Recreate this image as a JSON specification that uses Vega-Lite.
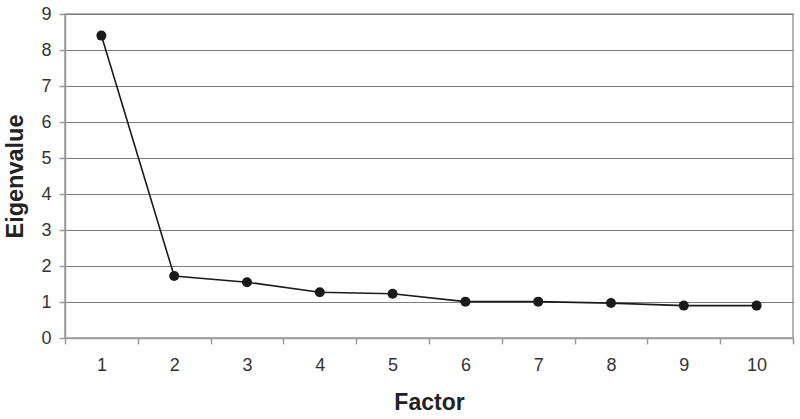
{
  "$schema": "https://vega.github.io/schema/vega-lite/v6.json",
  "autosize": {"type": "none"},
  "width": 728,
  "height": 324,
  "padding": {"left": 65, "top": 14, "right": 7, "bottom": 81},
  "background": "white",
  "config": {
    "view": {"stroke": "#9a9a9a", "strokeWidth": 1.5},
    "font": "Liberation Sans"
  },
  "data": {
    "values": [
      {"factor": 1, "eigenvalue": 8.4},
      {"factor": 2, "eigenvalue": 1.72},
      {"factor": 3, "eigenvalue": 1.55},
      {"factor": 4, "eigenvalue": 1.27},
      {"factor": 5, "eigenvalue": 1.23},
      {"factor": 6, "eigenvalue": 1.01},
      {"factor": 7, "eigenvalue": 1.01},
      {"factor": 8, "eigenvalue": 0.97},
      {"factor": 9, "eigenvalue": 0.9},
      {"factor": 10, "eigenvalue": 0.9}
    ]
  },
  "encoding": {
    "x": {
      "field": "factor",
      "type": "ordinal",
      "scale": {"type": "band", "paddingInner": 0, "paddingOuter": 0},
      "axis": {
        "title": "Factor",
        "titleFont": "Liberation Sans",
        "titleFontSize": 23,
        "titleFontWeight": "bold",
        "titleColor": "#222",
        "titleBaseline": "middle",
        "titleY": 64,
        "labelAngle": 0,
        "labelFont": "Liberation Sans",
        "labelFontSize": 18,
        "labelColor": "#333",
        "labelPadding": 12,
        "tickBand": "extent",
        "tickSize": 6,
        "tickColor": "#9a9a9a",
        "tickWidth": 1.5,
        "domainColor": "#9a9a9a",
        "domainWidth": 1.5,
        "grid": false
      }
    },
    "y": {
      "field": "eigenvalue",
      "type": "quantitative",
      "scale": {"domain": [0, 9], "nice": false},
      "axis": {
        "title": "Eigenvalue",
        "titleFont": "Liberation Sans",
        "titleFontSize": 23.5,
        "titleFontWeight": "bold",
        "titleColor": "#222",
        "titleAngle": -90,
        "titleBaseline": "middle",
        "titleAlign": "center",
        "titleX": -50,
        "titleY": 162,
        "values": [0, 1, 2, 3, 4, 5, 6, 7, 8, 9],
        "labelFont": "Liberation Sans",
        "labelFontSize": 18,
        "labelColor": "#333",
        "labelPadding": 8,
        "tickSize": 6,
        "tickColor": "#9a9a9a",
        "tickWidth": 1.5,
        "domainColor": "#9a9a9a",
        "domainWidth": 1.5,
        "grid": true,
        "gridColor": "#7a7a7a",
        "gridWidth": 1.2
      }
    }
  },
  "layer": [
    {"mark": {"type": "line", "color": "#1a1a1a", "strokeWidth": 1.6}},
    {"mark": {"type": "point", "filled": true, "color": "#1a1a1a", "opacity": 1, "size": 100}}
  ]
}
